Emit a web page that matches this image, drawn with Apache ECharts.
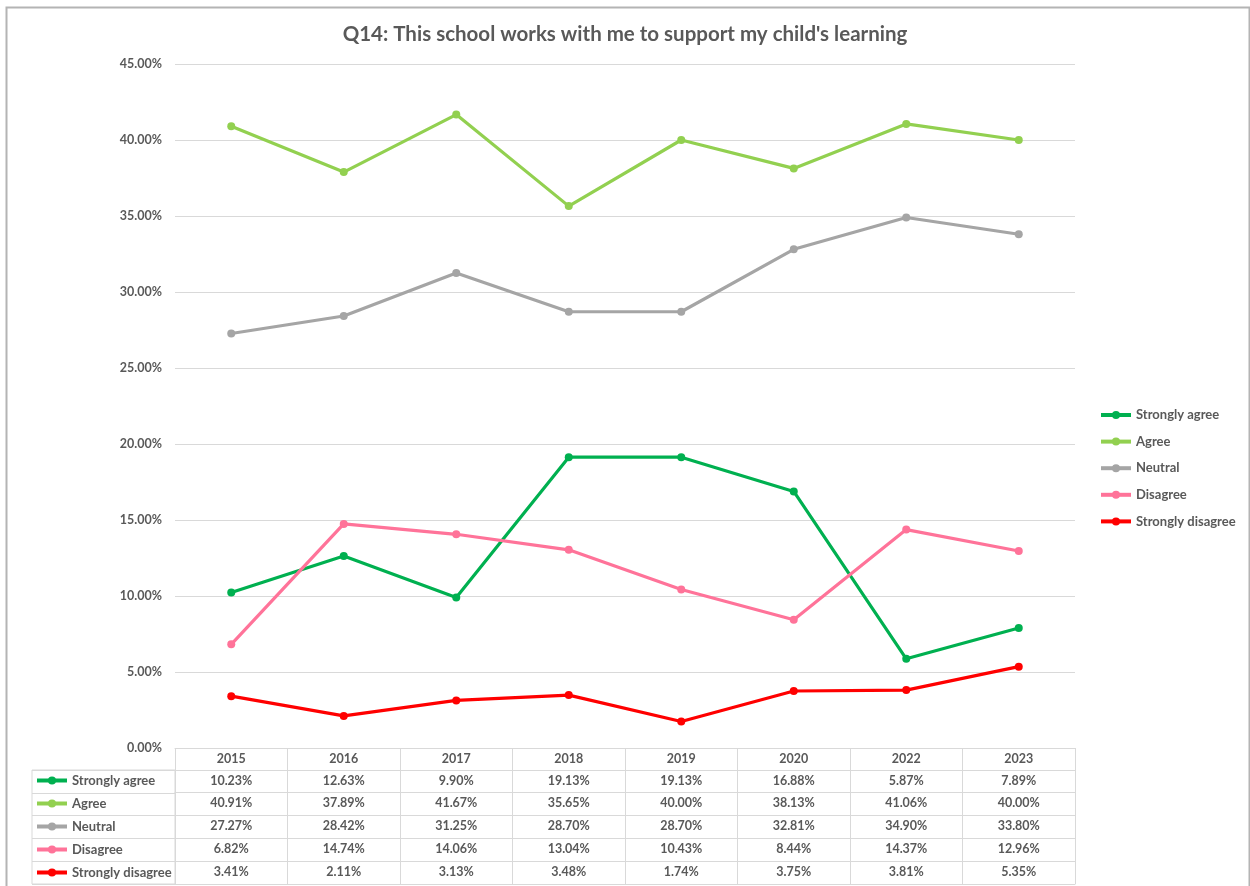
<!DOCTYPE html>
<html>
<head>
<meta charset="utf-8">
<script src="https://cdn.jsdelivr.net/npm/echarts@6/dist/echarts.min.js"></script>
<style>
html,body{margin:0;padding:0;background:#fff;}
#chart{width:1250px;height:886px;}
</style>
</head>
<body>
<div id="chart"></div>
<script>
const years = ['2015','2016','2017','2018','2019','2020','2022','2023'];
const seriesNames = ['Strongly agree','Agree','Neutral','Disagree','Strongly disagree'];
const stronglyAgree = [10.23,12.63,9.90,19.13,19.13,16.88,5.87,7.89];
const agree = [40.91,37.89,41.67,35.65,40.00,38.13,41.06,40.00];
const neutral = [27.27,28.42,31.25,28.70,28.70,32.81,34.90,33.80];
const disagree = [6.82,14.74,14.06,13.04,10.43,8.44,14.37,12.96];
const stronglyDisagree = [3.41,2.11,3.13,3.48,1.74,3.75,3.81,5.35];
const yTicks = {min:0, max:45, interval:5};
const colors = ['#00b050','#92d050','#a5a5a5','#ff7399','#ff0000'];

const allValues = [stronglyAgree, agree, neutral, disagree, stronglyDisagree];
const FONT = 'Lato, "Open Sans", sans-serif';
const TXT = '#595959';
const GRIDC = '#d9d9d9';
const FS = 12.5;
const rowOffsets = [22, 44.5, 67.5, 90.5, 113.5];

const chart = echarts.init(document.getElementById('chart'));

const xAxes = [{
  type:'category', data:years, gridIndex:0, position:'bottom', boundaryGap:true,
  axisLine:{show:true, lineStyle:{color:GRIDC, width:1}},
  axisTick:{show:true, interval:0, length:136, inside:false, lineStyle:{color:GRIDC}},
  axisLabel:{color:TXT, fontFamily:FONT, fontWeight:'bold', fontSize:FS, margin:4},
  splitLine:{show:false}
}];
rowOffsets.forEach((off, r) => {
  xAxes.push({
    type:'category', data:years, gridIndex:0, position:'bottom', offset:off,
    axisLine:{show:true, lineStyle:{color:GRIDC, width:1}},
    axisTick:{show:false},
    axisLabel:{color:TXT, fontFamily:FONT, fontWeight:'bold', fontSize:FS, margin:4,
      formatter:(v, i) => allValues[r][i].toFixed(2) + '%'},
    splitLine:{show:false}
  });
});
xAxes.push({
  type:'category', data:years, gridIndex:0, position:'bottom', offset:136,
  axisLine:{show:true, lineStyle:{color:GRIDC, width:1}},
  axisTick:{show:false}, axisLabel:{show:false}, splitLine:{show:false}
});
xAxes.push({type:'value', gridIndex:1, show:false, min:0, max:1});

const series = seriesNames.map((name, i) => ({
  name, type:'line', data:allValues[i], xAxisIndex:0, yAxisIndex:0,
  symbol:'circle', symbolSize:8, color:colors[i],
  lineStyle:{width:3.2, color:colors[i]}, itemStyle:{color:colors[i]},
  emphasis:{disabled:true}
}));

const legendText = {color:TXT, fontFamily:FONT, fontSize:13, fontWeight:'bold', lineHeight:14};

chart.setOption({
  animation:false,
  backgroundColor:'#fff',
  title:{text:"Q14: This school works with me to support my child's learning", left:'center', top:19,
    textStyle:{color:TXT, fontFamily:FONT, fontWeight:'bold', fontSize:20.5}},
  legend:[{
    data:seriesNames, orient:'vertical', left:1099, top:408, padding:0,
    itemWidth:30, itemHeight:10, itemGap:12.6, textStyle:legendText,
    lineStyle:{width:4}
  },{
    data:seriesNames, orient:'vertical', left:35, top:773.5, padding:0,
    itemWidth:30, itemHeight:10, itemGap:9, textStyle:legendText,
    lineStyle:{width:4}
  }],
  grid:[
    {left:175, right:175, top:64, bottom:138, containLabel:false},
    {left:32, width:143, top:770, height:114, show:true, borderColor:GRIDC, borderWidth:1}
  ],
  xAxis:xAxes,
  yAxis:[{
    type:'value', gridIndex:0, min:yTicks.min, max:yTicks.max, interval:yTicks.interval,
    axisLine:{show:false}, axisTick:{show:false},
    axisLabel:{color:TXT, fontFamily:FONT, fontWeight:'bold', fontSize:FS, margin:13,
      formatter:v => v.toFixed(2) + '%'},
    splitLine:{lineStyle:{color:GRIDC, width:1}}
  },{
    type:'category', gridIndex:1, data:seriesNames, inverse:true,
    axisLine:{show:false}, axisTick:{show:false}, axisLabel:{show:false},
    splitLine:{show:true, interval:0, lineStyle:{color:GRIDC}}
  }],
  series,
  graphic:[{
    type:'rect', left:4, top:5, shape:{width:1243, height:900},
    style:{fill:'none', stroke:'#b4b4b4', lineWidth:2}, silent:true
  }]
});
</script>
</body>
</html>
